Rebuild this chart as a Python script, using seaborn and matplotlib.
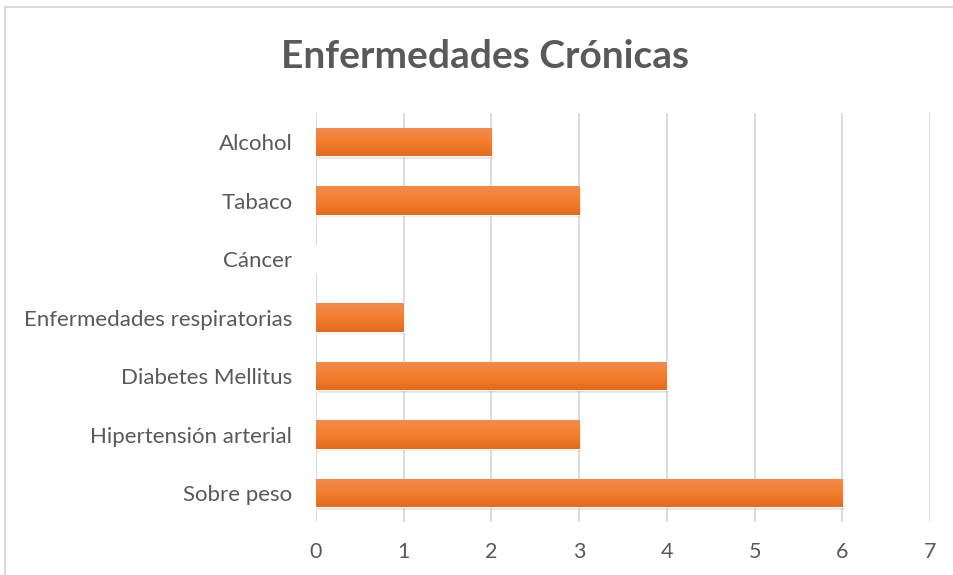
import matplotlib
matplotlib.use("Agg")
import matplotlib.pyplot as plt
import seaborn as sns
import numpy as np
import pandas as pd
from matplotlib.patches import Rectangle
from matplotlib.colors import LinearSegmentedColormap

categories = ["Alcohol", "Tabaco", "Cáncer", "Enfermedades respiratorias",
              "Diabetes Mellitus", "Hipertensión arterial", "Sobre peso"]
values = [2, 3, 0, 1, 4, 3, 6]
x_ticks = [0, 1, 2, 3, 4, 5, 6, 7]

df = pd.DataFrame({"cat": categories, "val": values})

sns.set_theme(style="white")
plt.rcParams['font.family'] = ['Lato', 'DejaVu Sans']

fig = plt.figure(figsize=(9.54, 5.75), dpi=100)
ax = fig.add_axes([0.3312, 0.0917, 0.9748 - 0.3312, 0.8039 - 0.0917])

sns.barplot(data=df, x="val", y="cat", orient="h", color="#ED7D31",
            width=0.48, ax=ax, zorder=3)

ax.set_xlim(0, 7)
ax.set_xticks(x_ticks)
ax.set_xticklabels([str(t) for t in x_ticks], color="#595959", fontsize=15.5)
ax.tick_params(axis="y", labelcolor="#595959", labelsize=16, length=0, pad=17)
ax.tick_params(axis="x", length=0, pad=14)
ax.set_xlabel("")
ax.set_ylabel("")
for s in ax.spines.values():
    s.set_visible(False)
ax.grid(axis="x", color="#D9D9D9", linewidth=1.3, zorder=0)
ax.set_axisbelow(True)

cmap = LinearSegmentedColormap.from_list("o", ["#F28A4E", "#F47F2E", "#E56A1C"])
grad = np.linspace(0, 1, 100).reshape(-1, 1)
for p in list(ax.patches):
    x0, y0 = p.get_x(), p.get_y()
    w, h = p.get_width(), p.get_height()
    if w <= 0:
        continue
    for i, a in enumerate([0.10, 0.07, 0.04]):
        sh = Rectangle((x0 + 0.01 + i * 0.008, y0 + 0.03 + i * 0.012), w, h,
                       facecolor="#555555", alpha=a, edgecolor="none", zorder=2)
        ax.add_patch(sh)
    im = ax.imshow(grad, cmap=cmap, aspect="auto",
                   extent=(x0, x0 + w, y0 + h, y0), zorder=4,
                   interpolation="bicubic")
    im.set_clip_path(p)
ax.set_xlim(0, 7)
ax.set_ylim(6.5, -0.5)

fig.text(0.508, 0.902, "Enfermedades Crónicas", ha="center", va="center",
         fontsize=28, fontweight="bold", color="#595959")

fig.patches.append(Rectangle((5 / 954, -0.1), 2, 1 - 7 / 575 + 0.1,
                             transform=fig.transFigure, fill=False,
                             edgecolor="#D9D9D9", linewidth=1.5))

fig.savefig("out.png", dpi=100)
